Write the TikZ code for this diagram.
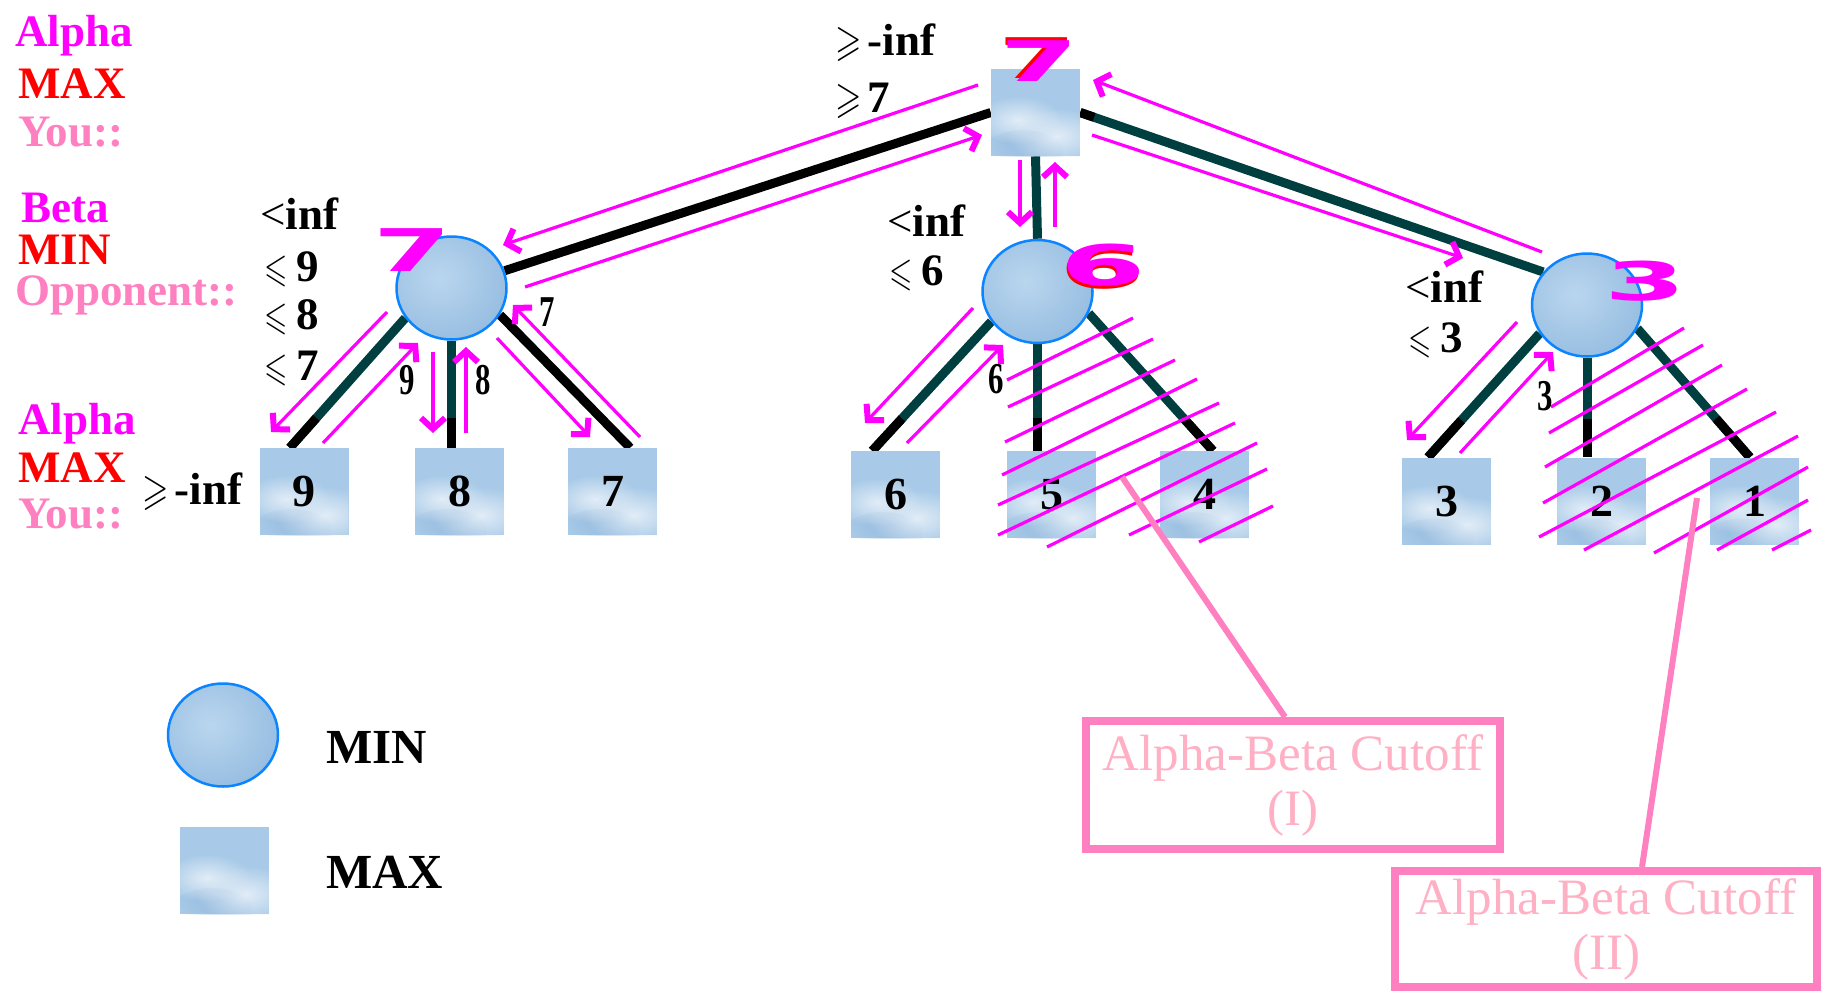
\documentclass[tikz,border=0pt]{standalone}
\usepackage{fontspec}
\setmainfont{Liberation Serif}
\newfontfamily\heavyfont{DejaVu Sans}
\usepackage{amssymb}
\usepackage{graphicx}
\usetikzlibrary{shapes.geometric,arrows.meta,calc,fadings}
\pgfdeclarelayer{paper}
\pgfdeclarelayer{bg}
\pgfsetlayers{paper,bg,main}
\definecolor{mag}{HTML}{FF00FF}
\definecolor{rd}{HTML}{FF0000}
\definecolor{pk}{HTML}{FF80C0}
\definecolor{lpk}{HTML}{FFB0C4}
\definecolor{teal0}{HTML}{003F3F}
\definecolor{boxbase}{HTML}{A8CAE8}
\definecolor{cloud}{HTML}{E2EDF7}
\definecolor{boxdark}{HTML}{8CB3DA}
\definecolor{circbase}{HTML}{96BDE1}
\definecolor{circlight}{HTML}{BAD6EE}
\definecolor{rim}{HTML}{0A84FF}
\tikzfading[name=fuzzy, inner color=transparent!0, outer color=transparent!100]
\newcommand{\lsq}{{\fontsize{10}{12}\selectfont\scalebox{3}[4.0]{$\leqslant$}}}
\newcommand{\gsq}{{\fontsize{10}{12}\selectfont\scalebox{3.4}[4.4]{$\geqslant$}}}
\newcommand{\boxnum}[1]{\raisebox{-3pt}{#1}}
\begin{document}
\begin{tikzpicture}[x=1pt,y=-1pt,
  lab/.style={inner sep=0pt, anchor=base west, font=\fontsize{45}{48}\selectfont\bfseries},
  maxbox/.style={rectangle, inner sep=0pt, minimum width=89pt, minimum height=87pt, fill=boxbase,
    font=\fontsize{46}{50}\selectfont\bfseries,
    path picture={
      \fill[boxdark, path fading=fuzzy] ($(path picture bounding box.south west)+(32pt,4pt)$) ellipse [x radius=40pt, y radius=22pt];
      \fill[cloud, path fading=fuzzy] ($(path picture bounding box.south west)+(27pt,36pt)$) ellipse [x radius=44pt, y radius=24pt];
      \fill[cloud, path fading=fuzzy] ($(path picture bounding box.south west)+(66pt,20pt)$) ellipse [x radius=50pt, y radius=28pt];
    }},
  minball/.style={ellipse, inner sep=0pt, minimum width=110pt, minimum height=103pt, fill=circbase, draw=rim, line width=2.5pt,
    path picture={
      \shade[inner color=circlight, outer color=circbase] ($(path picture bounding box.center)+(-12pt,10pt)$) ellipse [x radius=72pt, y radius=66pt];
    }},
  tedge/.style={draw=teal0, line width=9pt},
  blk/.style={draw=black, line width=9pt},
  arr/.style={draw=mag, line width=3.2pt, -{Straight Barb[length=11pt,width=24pt,line width=6pt]}},
  hatch/.style={draw=mag, line width=3.2pt},
  big/.style={inner sep=0pt, font=\heavyfont\bfseries\fontsize{56}{56}\selectfont},
  elab/.style={inner sep=0pt, font=\fontsize{44}{46}\selectfont\bfseries},
  cutbox/.style={rectangle, draw=pk, line width=8pt, text=lpk, align=center, font=\fontsize{51}{55}\selectfont, inner sep=0pt},
  callout/.style={draw=pk, line width=6pt}
]
\begin{pgfonlayer}{paper}
\path[use as bounding box, fill=white] (0,0) rectangle (1828,991);
\end{pgfonlayer}

% ---------- nodes ----------
\node[maxbox] (R) at (1035.5,112.5) {};
\node[minball] (A) at (451.5,288) {};
\node[minball] (B) at (1037.5,291.5) {};
\node[minball] (C) at (1587,305) {};
\node[maxbox] (b9) at (304,491.5) {\boxnum{9}};
\node[maxbox] (b8) at (459.5,491.5) {\boxnum{8}};
\node[maxbox] (b7) at (612.5,491.5) {\boxnum{7}};
\node[maxbox] (b6) at (895.5,494.5) {\boxnum{6}};
\node[maxbox] (b5) at (1051.5,494.5) {\boxnum{5}};
\node[maxbox] (b4) at (1204.5,494.5) {\boxnum{4}};
\node[maxbox] (b3) at (1446.5,501) {\boxnum{3}};
\node[maxbox] (b2) at (1601.5,501) {\boxnum{2}};
\node[maxbox] (b1) at (1754.5,501) {\boxnum{1}};

\coordinate (e8) at (A.south |- b8.north);
\coordinate (e5) at (B.south |- b5.north);
\coordinate (e2) at (C.south |- b2.north);

% ---------- edges ----------
\begin{pgfonlayer}{bg}
\draw[blk] (R.west) -- (A.18);
\draw[tedge] (R.east) -- (C.143);
\draw[blk] (R.east) -- ($(R.east)!0.03!(C.143)$);
\draw[tedge] (R.south) -- (B.north);
\draw[tedge] (A.213) -- (b9.108);
\draw[blk] ($(A.213)!0.77!(b9.108)$) -- (b9.108);
\draw[tedge] (A.south) -- (e8);
\draw[blk] ($(A.south)!0.72!(e8)$) -- (e8);
\draw[blk] (A.331) -- (b7.68);
\draw[tedge] (B.213) -- (b6.118);
\draw[blk] ($(B.213)!0.75!(b6.118)$) -- (b6.118);
\draw[tedge] (B.south) -- (e5);
\draw[blk] ($(B.south)!0.69!(e5)$) -- (e5);
\draw[tedge] (B.337) -- (b4.79);
\draw[blk] ($(B.337)!0.77!(b4.79)$) -- (b4.79);
\draw[tedge] (C.211) -- (b3.113);
\draw[blk] ($(C.211)!0.70!(b3.113)$) -- (b3.113);
\draw[tedge] (C.south) -- (e2);
\draw[blk] ($(C.south)!0.62!(e2)$) -- (e2);
\draw[tedge] (C.335) -- (b1.96);
\draw[blk] ($(C.335)!0.70!(b1.96)$) -- (b1.96);
\end{pgfonlayer}

% ---------- search arrows ----------
\coordinate (ra1s) at (978,85);   \coordinate (ra1e) at (503,245);
\coordinate (ra2s) at (525,287);  \coordinate (ra2e) at (982,135);
\coordinate (rb1s) at (1020,160); \coordinate (rb1e) at (1020,227);
\coordinate (rb2s) at (1055,227); \coordinate (rb2e) at (1055,162);
\coordinate (rc1s) at (1542,252); \coordinate (rc1e) at (1093,80);
\coordinate (rc2s) at (1092,135); \coordinate (rc2e) at (1463,258);
\coordinate (a9s) at (387,312);   \coordinate (a9e) at (271,432);
\coordinate (a9u) at (323,443);   \coordinate (a9v) at (418,343);
\coordinate (a8s) at (433,352);   \coordinate (a8e) at (433,433);
\coordinate (a8u) at (466,433);   \coordinate (a8v) at (466,347);
\coordinate (a7s) at (497,338);   \coordinate (a7e) at (590,437);
\coordinate (a7u) at (640,437);   \coordinate (a7v) at (513,305);
\coordinate (b6s) at (973,308);   \coordinate (b6e) at (865,423);
\coordinate (b6u) at (907,443);   \coordinate (b6v) at (1003,345);
\coordinate (c3s) at (1517,322);  \coordinate (c3e) at (1407,440);
\coordinate (c3u) at (1460,453);  \coordinate (c3v) at (1553,352);
\draw[arr] (ra1s) -- (ra1e);
\draw[arr] (ra2s) -- (ra2e);
\draw[arr] (rb1s) -- (rb1e);
\draw[arr] (rb2s) -- (rb2e);
\draw[arr] (rc1s) -- (rc1e);
\draw[arr] (rc2s) -- (rc2e);
\draw[arr] (a9s) -- (a9e);
\draw[arr] (a9u) -- (a9v);
\draw[arr] (a8s) -- (a8e);
\draw[arr] (a8u) -- (a8v);
\draw[arr] (a7s) -- (a7e);
\draw[arr] (a7u) -- (a7v);
\draw[arr] (b6s) -- (b6e);
\draw[arr] (b6u) -- (b6v);
\draw[arr] (c3s) -- (c3e);
\draw[arr] (c3u) -- (c3v);

% ---------- cutoff hatching ----------
\foreach \xa/\ya/\xb/\yb in {1007/380/1133/318, 1008/407/1153/339, 1005/442/1175/360, 1002/475/1197/379,
  998/505/1219/403, 998/535/1235/423, 1047/547/1257/443, 1129/535/1267/469, 1199/542/1273/506,
  1551/407/1684/328, 1549/433/1703/345, 1545/467/1722/365, 1543/503/1747/389, 1539/537/1776/412,
  1584/550/1798/436, 1654/553/1808/467, 1717/550/1808/500, 1772/550/1811/530}
  \draw[hatch] (\xa,\ya) -- (\xb,\yb);

% ---------- cutoff boxes ----------
\node[cutbox, minimum width=414pt, minimum height=128pt] (cutI) at (1293,785) {Alpha-Beta Cutoff\\(I)};
\node[cutbox, minimum width=422pt, minimum height=116pt] (cutII) at (1606,929) {Alpha-Beta Cutoff\\(II)};
\coordinate (cI) at (1122,477);
\coordinate (cII) at (1697,498);
\draw[callout] (cI) -- ($(cutI.north)+(-8pt,0pt)$);
\draw[callout] (cII) -- ($(cutII.north)+(36pt,0pt)$);

% ---------- propagated values ----------
\node[big, text=rd] (s7Rr) at (1037,58) {\scalebox{2}[1]{7}};
\node[big, text=mag] (s7R) at (1039,61) {\scalebox{2}[1]{7}};
\node[big, text=mag] (s7A) at (412,250) {\scalebox{2}[1.05]{7}};
\node[big, text=rd] (s6Br) at (1102,268) {\scalebox{2.2}[1]{6}};
\node[big, text=mag] (s6B) at (1103,265) {\scalebox{2.2}[1]{6}};
\node[big, text=mag] (s3C) at (1645,281) {\scalebox{2.1}[0.95]{3}};

% ---------- edge labels ----------
\node[elab] (l9) at (407,380) {\scalebox{0.7}[1]{9}};
\node[elab] (l8) at (483,380) {\scalebox{0.7}[1]{8}};
\node[elab] (l7) at (547,312) {\scalebox{0.7}[1]{7}};
\node[elab] (l6) at (996,379) {\scalebox{0.7}[1]{6}};
\node[elab] (l3) at (1545,396) {\scalebox{0.7}[1]{3}};

% ---------- bounds ----------
\node[lab] (aInf) at (260,229) {\textmd{<}inf};
\node[lab] (aLe9) at (264,281) {\lsq\hspace{9pt}9};
\node[lab] (aLe8) at (264,329) {\lsq\hspace{9pt}8};
\node[lab] (aLe7) at (264,380) {\lsq\hspace{9pt}7};
\node[lab] (rInf) at (835,55) {\gsq\hspace{6pt}-inf};
\node[lab] (rGe7) at (835,112) {\gsq\hspace{6pt}7};
\node[lab] (bInf) at (887,236) {\textmd{<}inf};
\node[lab] (bLe6) at (889,285) {\lsq\hspace{9pt}6};
\node[lab] (cInf) at (1405,302) {\textmd{<}inf};
\node[lab] (cLe3) at (1408,352) {\lsq\hspace{9pt}3};
\node[lab] (lGeInf) at (142,504) {\gsq\hspace{6pt}-inf};

% ---------- level captions ----------
\node[lab, text=mag] (tAlpha1) at (15,46) {Alpha};
\node[lab, text=rd] (tMax1) at (18,98) {MAX};
\node[lab, text=pk] (tYou1) at (18,146) {You::};
\node[lab, text=mag] (tBeta) at (21,222) {Beta};
\node[lab, text=rd] (tMin) at (18,264) {MIN};
\node[lab, text=pk] (tOpp) at (15,305) {Opponent::};
\node[lab, text=mag] (tAlpha2) at (18,434) {Alpha};
\node[lab, text=rd] (tMax2) at (18,482) {MAX};
\node[lab, text=pk] (tYou2) at (18,528) {You::};

% ---------- legend ----------
\node[minball] (legC) at (223,735) {};
\node[maxbox] (legS) at (224.5,870.5) {};
\node[lab, font=\fontsize{49}{52}\selectfont\bfseries] (legMin) at (326,763) {MIN};
\node[lab, font=\fontsize{49}{52}\selectfont\bfseries] (legMax) at (326,888) {MAX};
\end{tikzpicture}
\end{document}
